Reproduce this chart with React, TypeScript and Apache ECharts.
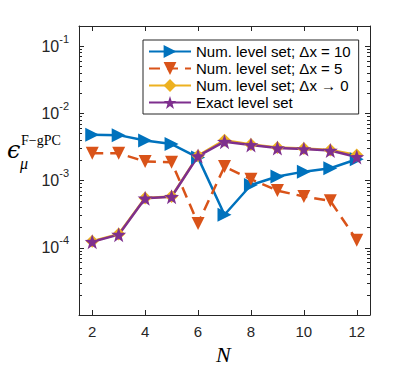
import React, { useEffect, useRef } from "react";
import * as echarts from "echarts";

const N = [2, 3, 4, 5, 6, 7, 8, 9, 10, 11, 12];
const numDx10 = [4.8e-3, 4.75e-3, 3.95e-3, 3.5e-3, 2.2e-3, 3.1e-4, 8.6e-4, 1.15e-3, 1.36e-3, 1.53e-3, 2.08e-3];
const numDx5 = [2.56e-3, 2.56e-3, 1.92e-3, 1.88e-3, 2.3e-4, 1.62e-3, 1.05e-3, 7.1e-4, 5.8e-4, 5.0e-4, 1.3e-4];
const numDx0 = [1.25e-4, 1.6e-4, 5.5e-4, 5.8e-4, 2.35e-3, 4.0e-3, 3.45e-3, 3.1e-3, 3.0e-3, 2.85e-3, 2.4e-3];
const exactLS = [1.23e-4, 1.57e-4, 5.45e-4, 5.75e-4, 2.32e-3, 3.8e-3, 3.4e-3, 3.05e-3, 2.95e-3, 2.8e-3, 2.25e-3];

const seriesNames = [
  "Num. level set; Δx = 10",
  "Num. level set; Δx = 5",
  "Num. level set; Δx → 0",
  "Exact level set",
];

const xTicks = [2, 4, 6, 8, 10, 12];
const yMajorTicks = [1e-5, 1e-4, 1e-3, 1e-2, 1e-1];
const yLabelTicks = [1e-4, 1e-3, 1e-2, 1e-1];
const yMinorTicks = [
  2e-5, 3e-5, 4e-5, 5e-5, 6e-5, 7e-5, 8e-5, 9e-5,
  2e-4, 3e-4, 4e-4, 5e-4, 6e-4, 7e-4, 8e-4, 9e-4,
  2e-3, 3e-3, 4e-3, 5e-3, 6e-3, 7e-3, 8e-3, 9e-3,
  2e-2, 3e-2, 4e-2, 5e-2, 6e-2, 7e-2, 8e-2, 9e-2,
  2e-1,
];

const COLORS = ["#0072BD", "#D95319", "#EDB120", "#7E2F8E"];
const AX = "#262626";
const STAR =
  "path://M0,-10 L2.35,-3.24 9.51,-3.09 3.8,1.24 5.88,8.09 0,4 -5.88,8.09 -3.8,1.24 -9.51,-3.09 -2.35,-3.24Z";

const pair = (vals: number[]) => N.map((n, i) => [n, vals[i]]);

export default function App() {
  const ref = useRef<HTMLDivElement>(null);
  useEffect(() => {
    if (!ref.current) return;
    const chart = echarts.init(ref.current, null, { renderer: "svg" });
    const xBase = {
      type: "value",
      min: 1.5,
      max: 12.5,
      splitLine: { show: false },
      axisLine: { show: true, onZero: false, lineStyle: { color: AX, width: 1 } },
      axisTick: { show: true, inside: true, length: 5, customValues: xTicks, lineStyle: { color: AX } },
    };
    const yBase = {
      type: "log",
      logBase: 10,
      min: 1e-5,
      max: 0.2,
      splitLine: { show: false },
      minorTick: { show: false },
    };
    const option: any = {
      animation: false,
      grid: { left: 79, right: 29, top: 26, bottom: 56 },
      xAxis: [
        {
          ...xBase,
          position: "bottom",
          axisLabel: {
            customValues: xTicks,
            margin: 9,
            fontSize: 15,
            fontFamily: "Liberation Sans",
            color: AX,
          },
        },
        { ...xBase, position: "top", axisLabel: { show: false } },
      ],
      yAxis: [
        {
          ...yBase,
          position: "left",
          axisLine: { show: true, onZero: false, lineStyle: { color: AX, width: 1 } },
          axisTick: { show: true, inside: true, length: 5, customValues: yMajorTicks, lineStyle: { color: AX } },
          axisLabel: {
            customValues: yLabelTicks,
            margin: 10,
            formatter: (v: number) => `{b|10}{s|${Math.round(Math.log10(v))}}`,
            rich: {
              b: { fontSize: 16, lineHeight: 16, fontFamily: "Liberation Sans", color: AX, verticalAlign: "bottom" },
              s: {
                fontSize: 11,
                lineHeight: 11,
                fontFamily: "Liberation Sans",
                color: AX,
                verticalAlign: "bottom",
                padding: [0, 0, 10, 0],
              },
            },
          },
        },
        {
          ...yBase,
          position: "left",
          axisLine: { show: false },
          axisTick: { show: true, inside: true, length: 3, customValues: yMinorTicks, lineStyle: { color: AX } },
          axisLabel: { show: false },
        },
        {
          ...yBase,
          position: "right",
          axisLine: { show: true, onZero: false, lineStyle: { color: AX, width: 1 } },
          axisTick: { show: true, inside: true, length: 5, customValues: yMajorTicks, lineStyle: { color: AX } },
          axisLabel: { show: false },
        },
        {
          ...yBase,
          position: "right",
          axisLine: { show: false },
          axisTick: { show: true, inside: true, length: 3, customValues: yMinorTicks, lineStyle: { color: AX } },
          axisLabel: { show: false },
        },
      ],
      legend: {
        left: 143,
        top: 40,
        orient: "vertical",
        itemWidth: 42,
        itemHeight: 16,
        itemGap: 2,
        padding: [4, 8, 4, 5],
        backgroundColor: "#fff",
        borderColor: AX,
        borderWidth: 1,
        borderRadius: 0,
        textStyle: { fontSize: 15, fontFamily: "Liberation Sans", color: "#000" },
        data: seriesNames,
      },
      series: [
        {
          name: seriesNames[0],
          type: "line",
          data: pair(numDx10),
          symbol: "triangle",
          symbolRotate: -90,
          symbolSize: 14,
          itemStyle: { color: COLORS[0] },
          lineStyle: { color: COLORS[0], width: 2.5 },
        },
        {
          name: seriesNames[1],
          type: "line",
          data: pair(numDx5),
          symbol: "triangle",
          symbolRotate: 180,
          symbolSize: 13,
          itemStyle: { color: COLORS[1] },
          lineStyle: { color: COLORS[1], width: 2.5, type: [11, 7] },
        },
        {
          name: seriesNames[2],
          type: "line",
          data: pair(numDx0),
          symbol: "diamond",
          symbolSize: 13,
          itemStyle: { color: COLORS[2] },
          lineStyle: { color: COLORS[2], width: 2.5 },
        },
        {
          name: seriesNames[3],
          type: "line",
          data: pair(exactLS),
          symbol: STAR,
          symbolSize: 15,
          itemStyle: { color: COLORS[3] },
          lineStyle: { color: COLORS[3], width: 2.5 },
        },
      ],
      graphic: [
        {
          type: "text",
          left: 7,
          top: 138,
          style: { text: "ϵ", font: "italic 24px 'DejaVu Serif'", fill: "#000" },
        },
        {
          type: "text",
          left: 21,
          top: 133,
          style: { text: "F−gPC", font: "14px 'Liberation Serif'", fill: "#000" },
        },
        {
          type: "text",
          left: 20,
          top: 155,
          style: { text: "μ", font: "italic 16px 'Liberation Serif'", fill: "#000" },
        },
        {
          type: "text",
          left: 216,
          top: 343,
          style: { text: "N", font: "italic 22px 'Liberation Serif'", fill: "#000" },
        },
      ],
    };
    chart.setOption(option);
    return () => chart.dispose();
  }, []);
  return <div ref={ref} style={{ width: 399, height: 371, position: "absolute", left: 0, top: 0 }} />;
}
